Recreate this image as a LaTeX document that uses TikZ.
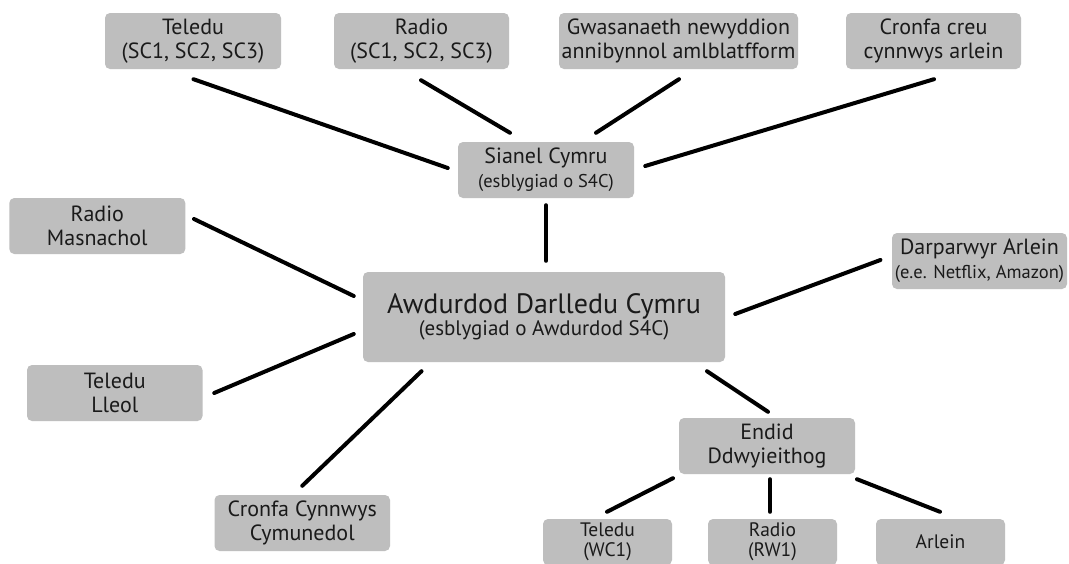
\documentclass[tikz,border=0pt]{standalone}
\usepackage{fontspec}
\setmainfont{PT Sans}
\usetikzlibrary{calc}
\definecolor{boxgray}{HTML}{BEBEBE}
\definecolor{txtc}{HTML}{1A1A1A}
\tikzset{
  box/.style={fill=boxgray, rounded corners=5pt, inner sep=0pt, align=center, text=txtc,
    minimum width=176pt, minimum height=56pt, font=\fontsize{22}{24}\selectfont},
  smallbox/.style={box, minimum width=129pt, minimum height=46pt, font=\fontsize{19.5}{20}\selectfont},
  link/.style={line width=4pt, line cap=round, draw=black}
}
\newcommand{\subt}[1]{{\fontsize{18.5}{22}\selectfont #1}}
\begin{document}
\begin{tikzpicture}[x=1pt,y=-1pt]
\clip (0,0) rectangle (1069,563);
\fill[white] (0,0) rectangle (1069,563);
% boxes
\node[box] (tel1) at (193,41) {Teledu\\(SC1, SC2, SC3)};
\node[box, minimum width=175pt] (rad1) at (421.5,41) {Radio\\(SC1, SC2, SC3)};
\node[box, minimum width=239pt] (gwas) at (678.5,41) {Gwasanaeth newyddion\\annibynnol amlblatfform};
\node[box, minimum width=175pt] (cron1) at (933.5,41) {Cronfa creu\\cynnwys arlein};
\node[box] (sian) at (546,170) {Sianel Cymru\\\subt{(esblygiad o S4C)}};
\node[box] (masn) at (97.3,226) {Radio\\Masnachol};
\node[box, minimum width=362pt, minimum height=90pt, font=\fontsize{28}{29}\selectfont] (awd) at (544,317)
  {Awdurdod Darlledu Cymru\\[-7pt]{\fontsize{21}{22}\selectfont (esblygiad o Awdurdod S4C)}};
\node[box, minimum width=175pt] (darp) at (979.5,261) {Darparwyr Arlein\\\subt{(e.e. Netflix, Amazon)}};
\node[box, minimum width=175.5pt] (lleol) at (114.75,393) {Teledu\\Lleol};
\node[box, minimum width=175.5pt] (cymun) at (302.25,523) {Cronfa Cynnwys\\Cymunedol};
\node[box] (endid) at (767,446) {Endid\\Ddwyieithog};
\node[smallbox] (wc1) at (607.5,542) {Teledu\\(WC1)};
\node[smallbox] (rw1) at (772.5,542) {Radio\\(RW1)};
\node[smallbox] (arl) at (940.5,542) {Arlein};
% connectors
\draw[link] ($(tel1.south)+(0.5,10)$) -- ($(sian.west)+(-10,-2)$);
\draw[link] ($(rad1.south)+(-0.5,11)$) -- ($(sian.north)+(-36,-9)$);
\draw[link] ($(gwas.south)+(0.5,10)$) -- ($(sian.north)+(50,-9)$);
\draw[link] ($(cron1.south)+(0.5,10)$) -- ($(sian.east)+(11,-4)$);
\draw[link] ($(sian.south)+(0,7)$) -- ($(awd.north)+(2,-11)$);
\draw[link] ($(masn.east)+(8.5,-7)$) -- ($(awd.west)+(-9,-21)$);
\draw[link] ($(lleol.east)+(11.5,0)$) -- ($(awd.west)+(-9,17)$);
\draw[link] ($(cymun.north)+(0,-9)$) -- ($(awd.south)+(-122.5,9)$);
\draw[link] ($(darp.west)+(-11.4,-1)$) -- ($(awd.east)+(10,-3)$);
\draw[link] ($(awd.south)+(163,9)$) -- ($(endid.north)+(1,-6)$);
\draw[link] ($(endid.south)+(-94,4)$) -- ($(wc1.north)+(-0.5,-7)$);
\draw[link] ($(endid.south)+(3,5)$) -- ($(rw1.north)+(-2.5,-7)$);
\draw[link] ($(endid.south)+(90,5)$) -- ($(arl.north)+(-0.5,-7)$);
\end{tikzpicture}
\end{document}
